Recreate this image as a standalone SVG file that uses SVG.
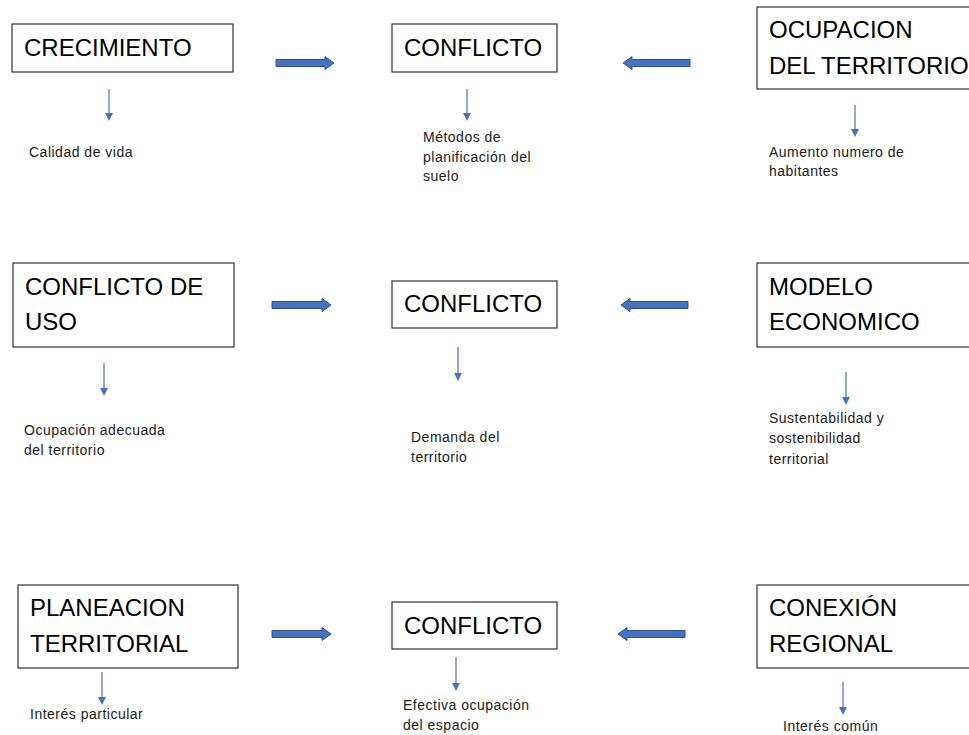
<svg xmlns="http://www.w3.org/2000/svg" width="969" height="735" viewBox="0 0 969 735">
<style>
.box{fill:#fff;stroke:#404040;stroke-width:1.3}
.big{font-family:"Liberation Sans",Arial,sans-serif;font-size:24px;fill:#000}
.small{font-family:"Liberation Sans",Arial,sans-serif;font-size:14px;letter-spacing:0.5px;fill:#1a1a1a}
.fat{fill:#4472C4;stroke:#2F528F;stroke-width:1}
.thin{stroke:#4472C4;stroke-width:1.2;fill:none}
.tip{fill:#4472C4}
</style>
<rect width="969" height="735" fill="#fff"/>
<g id="crecimiento"><rect class="box" x="12" y="24" width="221" height="48"/><text class="big" x="24" y="56">CRECIMIENTO</text></g>
<g id="conflicto1"><rect class="box" x="392" y="24" width="165" height="48"/><text class="big" x="404" y="56">CONFLICTO</text></g>
<g id="ocupacion"><rect class="box" x="757" y="7" width="220" height="82"/><text class="big" x="769" y="38">OCUPACION</text><text class="big" x="769" y="74">DEL TERRITORIO</text></g>
<g id="conflicto-uso"><rect class="box" x="13" y="263" width="221" height="84"/><text class="big" x="25" y="295">CONFLICTO DE</text><text class="big" x="25" y="330">USO</text></g>
<g id="conflicto2"><rect class="box" x="392" y="281" width="165" height="47"/><text class="big" x="404" y="312">CONFLICTO</text></g>
<g id="modelo"><rect class="box" x="757" y="263" width="220" height="84"/><text class="big" x="769" y="295">MODELO</text><text class="big" x="769" y="330">ECONOMICO</text></g>
<g id="planeacion"><rect class="box" x="18" y="585" width="220" height="83"/><text class="big" x="30" y="616">PLANEACION</text><text class="big" x="30" y="652">TERRITORIAL</text></g>
<g id="conflicto3"><rect class="box" x="392" y="602" width="165" height="47"/><text class="big" x="404" y="634">CONFLICTO</text></g>
<g id="conexion"><rect class="box" x="757" y="585" width="220" height="83"/><text class="big" x="769" y="616">CONEXIÓN</text><text class="big" x="769" y="652">REGIONAL</text></g>
<g id="connectors">
<path class="fat" d="M276 59.5H325V56.5L334 63L325 69.5V66.5H276Z"/>
<path class="fat" d="M690 59.5H632V56.5L623 63L632 69.5V66.5H690Z"/>
<path class="fat" d="M272 301.5H322V298.5L331 305L322 311.5V308.5H272Z"/>
<path class="fat" d="M688 301.5H630V298.5L621 305L630 311.5V308.5H688Z"/>
<path class="fat" d="M272 630.5H322V627.5L331 634L322 640.5V637.5H272Z"/>
<path class="fat" d="M685 630.5H627V627.5L618 634L627 640.5V637.5H685Z"/>
<line class="thin" x1="109" y1="89" x2="109" y2="114"/><path class="tip" d="M105 113H113L109 121Z"/>
<line class="thin" x1="467" y1="89" x2="467" y2="114"/><path class="tip" d="M463 113H471L467 121Z"/>
<line class="thin" x1="855" y1="105" x2="855" y2="130"/><path class="tip" d="M851 129H859L855 137Z"/>
<line class="thin" x1="104" y1="363" x2="104" y2="389"/><path class="tip" d="M100 388H108L104 396Z"/>
<line class="thin" x1="458" y1="347" x2="458" y2="374"/><path class="tip" d="M454 373H462L458 381Z"/>
<line class="thin" x1="846" y1="372" x2="846" y2="398"/><path class="tip" d="M842 397H850L846 405Z"/>
<line class="thin" x1="102" y1="672" x2="102" y2="698"/><path class="tip" d="M98 697H106L102 705Z"/>
<line class="thin" x1="456" y1="657" x2="456" y2="684"/><path class="tip" d="M452 683H460L456 691Z"/>
<line class="thin" x1="843" y1="682" x2="843" y2="708"/><path class="tip" d="M839 707H847L843 715Z"/>
</g>
<g id="labels">
<text class="small" x="29" y="157">Calidad de vida</text>
<text class="small" x="423" y="142">Métodos de</text>
<text class="small" x="423" y="162">planificación del</text>
<text class="small" x="423" y="181">suelo</text>
<text class="small" x="769" y="157">Aumento numero de</text>
<text class="small" x="769" y="176">habitantes</text>
<text class="small" x="24" y="435">Ocupación adecuada</text>
<text class="small" x="24" y="455">del territorio</text>
<text class="small" x="411" y="442">Demanda del</text>
<text class="small" x="411" y="462">territorio</text>
<text class="small" x="769" y="423">Sustentabilidad y</text>
<text class="small" x="769" y="443">sostenibilidad</text>
<text class="small" x="769" y="464">territorial</text>
<text class="small" x="30" y="719">Interés particular</text>
<text class="small" x="403" y="710">Efectiva ocupación</text>
<text class="small" x="403" y="730">del espacio</text>
<text class="small" x="783" y="731">Interés común</text>
</g>
</svg>
